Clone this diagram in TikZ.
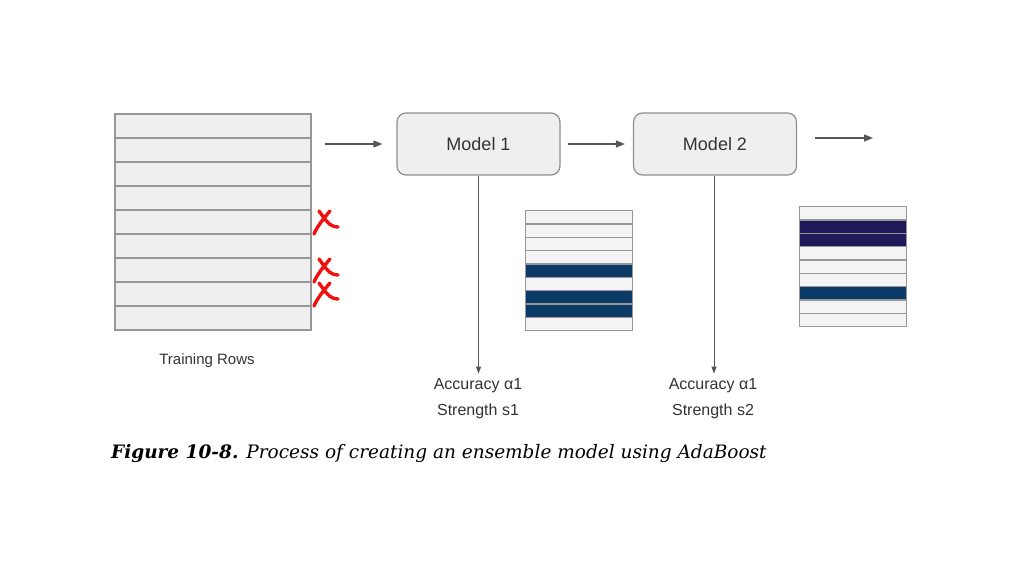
\documentclass[tikz,border=0pt]{standalone}
\usepackage{fontspec}
\setmainfont{DejaVu Serif}
\newfontfamily\diagfont{Liberation Sans}
\usepackage{xcolor}
\usetikzlibrary{positioning}
\usetikzlibrary{arrows.meta}

\definecolor{rowfill}{HTML}{EFEFEF}
\definecolor{rowline}{HTML}{979797}
\definecolor{boxline}{HTML}{8E8E8E}
\definecolor{arrowgray}{HTML}{555555}
\definecolor{paleRow}{HTML}{F4F4F4}
\definecolor{blueRow}{HTML}{0B3A66}
\definecolor{navyRow}{HTML}{1E1A5A}
\definecolor{markred}{HTML}{F01010}

\begin{document}
\begin{tikzpicture}[x=1pt,y=-1pt,
  trainrow/.style={draw=rowline, fill=rowfill, line width=2pt, minimum width=196pt, minimum height=24pt, inner sep=0pt, anchor=north west},
  minirow/.style={draw=rowline, line width=1.2pt, minimum width=107pt, minimum height=13.3pt, inner sep=0pt, anchor=north west},
  modelbox/.style={draw=boxline, fill=rowfill, line width=1.2pt, rounded corners=9pt, minimum width=163pt, minimum height=62pt, font=\diagfont\fontsize{18}{20}\selectfont, text=black!80},
  infotext/.style={font=\diagfont\fontsize{16}{26}\selectfont, align=center, text=black!80, inner sep=2pt},
  flow/.style={draw=arrowgray, line width=1.3pt, -{Triangle[length=9pt,width=7pt]}},
  drop/.style={draw=arrowgray, line width=1pt, -{Triangle[length=7pt,width=5pt]}},
  cross/.style={draw=markred, line width=3.4pt, line cap=round}]
\useasboundingbox (0,0) rectangle (1024,576);

% training rows
\foreach \i in {0,...,8}
  \node[trainrow] (t\i) at (114,113+24*\i) {};
\node[font=\diagfont\fontsize{15}{17}\selectfont, text=black!80] (trainlabel) at (207,361) {Training Rows};

% misclassified rows
\foreach \i in {4,6,7} {
  \draw[cross] ([shift={(7,-11)}]t\i.east) .. controls ([shift={(13,-3)}]t\i.east) and ([shift={(17,5)}]t\i.east) .. ([shift={(26,5)}]t\i.east);
  \draw[cross] ([shift={(18,-11)}]t\i.east) .. controls ([shift={(11,-3)}]t\i.east) and ([shift={(5,5)}]t\i.east) .. ([shift={(2,12)}]t\i.east);
}

% models
\node[modelbox] (m1) at (478.5,144) {Model 1};
\node[modelbox] (m2) at (715,144) {Model 2};
\coordinate (next) at (873,138);

\draw[flow, shorten <=13pt, shorten >=14pt] (t1.east |- m1.west) -- (m1.west);
\draw[flow, shorten <=7pt, shorten >=8pt] (m1.east) -- (m2.west);
\draw[flow] ([shift={(18,-6)}]m2.east) -- (next);

% accuracy and strength
\node[infotext] (acc1) at (478,399) {Accuracy α1\\Strength s1};
\node[infotext] (acc2) at (713,399) {Accuracy α1\\Strength s2};
\draw[drop, shorten >=3pt] (m1.south) -- (m1.south |- acc1.north);
\draw[drop, shorten >=3pt] ([xshift=-1pt]m2.south) -- ([xshift=-1pt]m2.south |- acc2.north);

% reweighted rows
\foreach \i/\c in {0/paleRow,1/paleRow,2/paleRow,3/paleRow,4/blueRow,5/paleRow,6/blueRow,7/blueRow,8/paleRow}
  \node[minirow, fill=\c] (w\i) at (525,210+13.33*\i) {};
\foreach \i/\c in {0/paleRow,1/navyRow,2/navyRow,3/paleRow,4/paleRow,5/paleRow,6/blueRow,7/paleRow,8/paleRow}
  \node[minirow, fill=\c] (v\i) at (799,206+13.33*\i) {};

% caption
\node[anchor=base west, inner sep=0pt, font=\fontsize{18.5}{22}\selectfont\itshape] (caption) at (111,458)
  {\textbf{Figure 10-8.}\hspace{8pt}Process of creating an ensemble model using AdaBoost};
\end{tikzpicture}
\end{document}
